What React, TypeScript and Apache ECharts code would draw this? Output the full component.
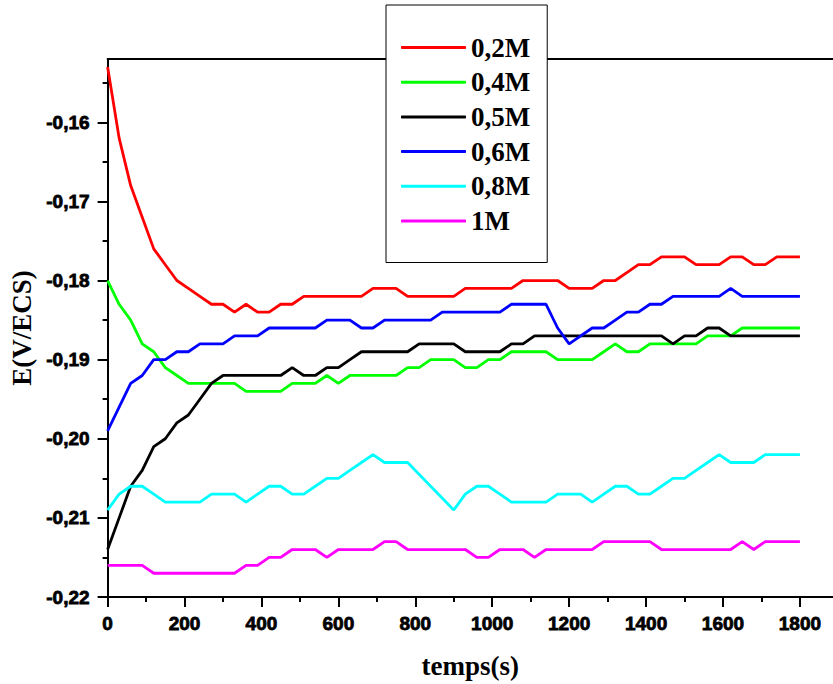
import React, { useEffect, useRef } from "react";
import * as echarts from "echarts";

const times: number[] = [];
for (let t = 0; t <= 1800; t += 30) times.push(t);

const seriesNames = ["0,2M", "0,4M", "0,5M", "0,6M", "0,8M", "1M"];
const seriesColors = ["#ff0000", "#00ff00", "#000000", "#0000ff", "#00ffff", "#ff00ff"];

const c02: number[] = [
  -0.153, -0.162, -0.168, -0.172, -0.176, -0.178, -0.180, -0.181, -0.182, -0.183,
  -0.183, -0.184, -0.183, -0.184, -0.184, -0.183, -0.183, -0.182, -0.182, -0.182,
  -0.182, -0.182, -0.182, -0.181, -0.181, -0.181, -0.182, -0.182, -0.182, -0.182,
  -0.182, -0.181, -0.181, -0.181, -0.181, -0.181, -0.180, -0.180, -0.180, -0.180,
  -0.181, -0.181, -0.181, -0.180, -0.180, -0.179, -0.178, -0.178, -0.177, -0.177,
  -0.177, -0.178, -0.178, -0.178, -0.177, -0.177, -0.178, -0.178, -0.177, -0.177,
  -0.177,
];
const c04: number[] = [
  -0.180, -0.183, -0.185, -0.188, -0.189, -0.191, -0.192, -0.193, -0.193, -0.193,
  -0.193, -0.193, -0.194, -0.194, -0.194, -0.194, -0.193, -0.193, -0.193, -0.192,
  -0.193, -0.192, -0.192, -0.192, -0.192, -0.192, -0.191, -0.191, -0.190, -0.190,
  -0.190, -0.191, -0.191, -0.190, -0.190, -0.189, -0.189, -0.189, -0.189, -0.190,
  -0.190, -0.190, -0.190, -0.189, -0.188, -0.189, -0.189, -0.188, -0.188, -0.188,
  -0.188, -0.188, -0.187, -0.187, -0.187, -0.186, -0.186, -0.186, -0.186, -0.186,
  -0.186,
];
const c05: number[] = [
  -0.214, -0.210, -0.206, -0.204, -0.201, -0.200, -0.198, -0.197, -0.195, -0.193,
  -0.192, -0.192, -0.192, -0.192, -0.192, -0.192, -0.191, -0.192, -0.192, -0.191,
  -0.191, -0.190, -0.189, -0.189, -0.189, -0.189, -0.189, -0.188, -0.188, -0.188,
  -0.188, -0.189, -0.189, -0.189, -0.189, -0.188, -0.188, -0.187, -0.187, -0.187,
  -0.187, -0.187, -0.187, -0.187, -0.187, -0.187, -0.187, -0.187, -0.187, -0.188,
  -0.187, -0.187, -0.186, -0.186, -0.187, -0.187, -0.187, -0.187, -0.187, -0.187,
  -0.187,
];
const c06: number[] = [
  -0.199, -0.196, -0.193, -0.192, -0.190, -0.190, -0.189, -0.189, -0.188, -0.188,
  -0.188, -0.187, -0.187, -0.187, -0.186, -0.186, -0.186, -0.186, -0.186, -0.185,
  -0.185, -0.185, -0.186, -0.186, -0.185, -0.185, -0.185, -0.185, -0.185, -0.184,
  -0.184, -0.184, -0.184, -0.184, -0.184, -0.183, -0.183, -0.183, -0.183, -0.186,
  -0.188, -0.187, -0.186, -0.186, -0.185, -0.184, -0.184, -0.183, -0.183, -0.182,
  -0.182, -0.182, -0.182, -0.182, -0.181, -0.182, -0.182, -0.182, -0.182, -0.182,
  -0.182,
];
const c08: (number | null)[] = [
  -0.209, -0.207, -0.206, -0.206, -0.207, -0.208, -0.208, -0.208, -0.208, -0.207,
  -0.207, -0.207, -0.208, -0.207, -0.206, -0.206, -0.207, -0.207, -0.206, -0.205,
  -0.205, -0.204, -0.203, -0.202, -0.203, -0.203, -0.203, null, null, null,
  -0.209, -0.207, -0.206, -0.206, -0.207, -0.208, -0.208, -0.208, -0.208, -0.207,
  -0.207, -0.207, -0.208, -0.207, -0.206, -0.206, -0.207, -0.207, -0.206, -0.205,
  -0.205, -0.204, -0.203, -0.202, -0.203, -0.203, -0.203, -0.202, -0.202, -0.202,
  -0.202,
];
const c10: number[] = [
  -0.216, -0.216, -0.216, -0.216, -0.217, -0.217, -0.217, -0.217, -0.217, -0.217,
  -0.217, -0.217, -0.216, -0.216, -0.215, -0.215, -0.214, -0.214, -0.214, -0.215,
  -0.214, -0.214, -0.214, -0.214, -0.213, -0.213, -0.214, -0.214, -0.214, -0.214,
  -0.214, -0.214, -0.215, -0.215, -0.214, -0.214, -0.214, -0.215, -0.214, -0.214,
  -0.214, -0.214, -0.214, -0.213, -0.213, -0.213, -0.213, -0.213, -0.214, -0.214,
  -0.214, -0.214, -0.214, -0.214, -0.214, -0.213, -0.214, -0.213, -0.213, -0.213,
  -0.213,
];
const seriesValues = [c02, c04, c05, c06, c08, c10];

const xMajorTicks = [0, 200, 400, 600, 800, 1000, 1200, 1400, 1600, 1800];
const xMinorTicks = [100, 300, 500, 700, 900, 1100, 1300, 1500, 1700];
const yMajorTicks = [-0.22, -0.21, -0.2, -0.19, -0.18, -0.17, -0.16];
const yMinorTicks = [-0.215, -0.205, -0.195, -0.185, -0.175, -0.165, -0.155];

const SANS = "'Liberation Sans', Arial, sans-serif";
const SERIF = "'Liberation Serif', 'Times New Roman', serif";
const X_MAX = 1886;

export default function App() {
  const ref = useRef<HTMLDivElement>(null);
  useEffect(() => {
    if (!ref.current) return;
    const chart = echarts.init(ref.current, undefined, { renderer: "svg" });
    const axisLine = { show: true, lineStyle: { color: "#000", width: 2 } };
    const tickRich = {
      b: {
        color: "#000",
        fontFamily: SANS,
        fontWeight: "bold",
        fontSize: 19,
        textBorderColor: "#000",
        textBorderWidth: 0.8,
      },
    };
    chart.setOption({
      animation: false,
      backgroundColor: "#fff",
      grid: { left: 107.3, right: 0, top: 59, bottom: 84.7, containLabel: false },
      legend: {
        orient: "vertical",
        left: 386,
        top: 5,
        padding: [29, 17, 28, 15],
        itemGap: 7.7,
        itemWidth: 65,
        itemHeight: 3,
        icon: "roundRect",
        backgroundColor: "#fff",
        borderColor: "#000",
        borderWidth: 1,
        borderRadius: 0,
        selectedMode: false,
        textStyle: {
          color: "#000",
          fontFamily: SERIF,
          fontWeight: "bold",
          fontSize: 27,
          lineHeight: 27,
        },
        data: seriesNames,
      },
      xAxis: [
        {
          type: "value",
          position: "bottom",
          min: 0,
          max: X_MAX,
          axisLine,
          splitLine: { show: false },
          axisTick: {
            show: true,
            inside: false,
            length: 10,
            customValues: xMajorTicks,
            lineStyle: { color: "#000", width: 2 },
          },
          axisLabel: {
            color: "#000",
            fontFamily: SANS,
            fontWeight: "bold",
            fontSize: 19,
            margin: 17,
            customValues: xMajorTicks,
            formatter: (v: number) => "{b|" + String(v) + "}",
            rich: tickRich,
          },
          name: "temps(s)",
          nameLocation: "middle",
          nameGap: 55,
          nameTextStyle: {
            color: "#000",
            fontFamily: SERIF,
            fontWeight: "bold",
            fontSize: 27,
          },
        },
        {
          type: "value",
          position: "bottom",
          min: 0,
          max: X_MAX,
          axisLine: { show: false },
          splitLine: { show: false },
          axisTick: {
            show: true,
            inside: false,
            length: 5,
            customValues: xMinorTicks,
            lineStyle: { color: "#000", width: 2 },
          },
          axisLabel: { show: false },
        },
        {
          type: "value",
          position: "top",
          min: 0,
          max: X_MAX,
          axisLine,
          splitLine: { show: false },
          axisTick: { show: false },
          axisLabel: { show: false },
        },
      ],
      yAxis: [
        {
          type: "value",
          position: "left",
          min: -0.22,
          max: -0.152,
          axisLine,
          splitLine: { show: false },
          axisTick: {
            show: true,
            inside: false,
            length: 10,
            customValues: yMajorTicks,
            lineStyle: { color: "#000", width: 2 },
          },
          axisLabel: {
            color: "#000",
            fontFamily: SANS,
            fontWeight: "bold",
            fontSize: 19,
            margin: 18,
            customValues: yMajorTicks,
            formatter: (v: number) => "{b|" + v.toFixed(2).replace(".", ",") + "}",
            rich: tickRich,
          },
          name: "E(V/ECS)",
          nameLocation: "middle",
          nameRotate: 90,
          nameGap: 64,
          nameTextStyle: {
            color: "#000",
            fontFamily: SERIF,
            fontWeight: "bold",
            fontSize: 27,
          },
        },
        {
          type: "value",
          position: "left",
          min: -0.22,
          max: -0.152,
          axisLine: { show: false },
          splitLine: { show: false },
          axisTick: {
            show: true,
            inside: false,
            length: 5,
            customValues: yMinorTicks,
            lineStyle: { color: "#000", width: 2 },
          },
          axisLabel: { show: false },
        },
      ],
      series: seriesNames.map((name, i) => ({
        name,
        type: "line",
        xAxisIndex: 0,
        yAxisIndex: 0,
        symbol: "none",
        connectNulls: true,
        color: seriesColors[i],
        lineStyle: { color: seriesColors[i], width: 2.8 },
        data: times.map((t, k) => [t, seriesValues[i][k]]),
      })),
    });
    return () => chart.dispose();
  }, []);
  return (
    <div
      ref={ref}
      style={{ position: "absolute", left: 0, top: 0, width: 833, height: 684 }}
    />
  );
}
